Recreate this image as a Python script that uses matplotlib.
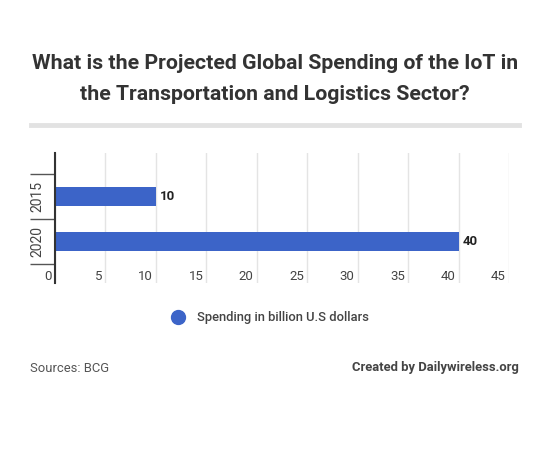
import matplotlib as mpl
mpl.use('Agg')
import matplotlib.pyplot as plt
from matplotlib.transforms import ScaledTranslation
from matplotlib.lines import Line2D

years = ['2015', '2020']
spending = [10, 40]
xticks = [0, 5, 10, 15, 20, 25, 30, 35, 40, 45]
title = 'What is the Projected Global Spending of the IoT in\nthe Transportation and Logistics Sector?'
series_name = 'Spending in billion U.S dollars'
source = 'Sources: BCG'
credit = 'Created by Dailywireless.org'

plt.rcParams['font.family'] = ['Roboto', 'DejaVu Sans']

fig = plt.figure(figsize=(5.5, 4.57), dpi=100)
W, H = 550, 457
ax = fig.add_axes([55/W, 1-283/H, (509-55)/W, (283-153)/H])

pos = list(range(len(years)))
bars = ax.barh(pos, spending, height=0.43, color='#3c64c8', zorder=3)
for b, v in zip(bars, spending):
    ax.text(v + 0.4, b.get_y() + b.get_height()/2, str(v), va='center', ha='left',
            fontsize=9.5, fontweight='bold', color='#222222')

ax.set_xlim(0, 45)
ax.set_ylim((283-241.5)/45 + 1, -(196.5-153)/45)
ax.set_xticks(xticks)
ax.set_xticklabels([str(t) for t in xticks])
ax.grid(axis='x', color='#e4e4e4', linewidth=1, zorder=0)
ax.set_yticks(pos)
ax.set_yticklabels(years, rotation=90, va='center')
ax.set_yticks([-0.5, 0.5, 1.5], minor=True)
ax.tick_params(axis='y', which='major', length=0, pad=7.5, labelsize=10, labelcolor='#444444')
ax.tick_params(axis='y', which='minor', length=18, width=1, color='#555555')
ax.tick_params(axis='x', length=0, pad=-9.5, labelsize=9.5, labelcolor='#444444')
for lab in ax.get_xticklabels():
    lab.set_horizontalalignment('right')
    lab.set_transform(lab.get_transform() + ScaledTranslation(-3/100, 0, fig.dpi_scale_trans))

for s in ['top', 'right', 'bottom']:
    ax.spines[s].set_visible(False)
ax.spines['left'].set_color('#333333')
ax.spines['left'].set_linewidth(1.5)
ax.spines['left'].set_zorder(4)

fig.text(0.5, 1-79/H, title, ha='center', va='center', fontsize=15.3, fontweight='bold',
         color='#333333', linespacing=1.78)
fig.add_artist(Line2D([31/W, 519/W], [1-125/H, 1-125/H], color='#e2e2e2', linewidth=3.5))

fig.add_artist(Line2D([178/W], [1-317/H], marker='o', markersize=10, color='#3c64c8', linestyle='none'))
fig.text(197/W, 1-317/H, series_name, ha='left', va='center', fontsize=9.4,
         fontweight='medium', color='#444444')

fig.text(30/W, 1-368/H, source, ha='left', va='center', fontsize=9.4, color='#555555')
fig.text(519/W, 1-368/H, credit, ha='right', va='center', fontsize=9.4, fontweight='bold', color='#444444')

fig.savefig('out.png', dpi=100)
